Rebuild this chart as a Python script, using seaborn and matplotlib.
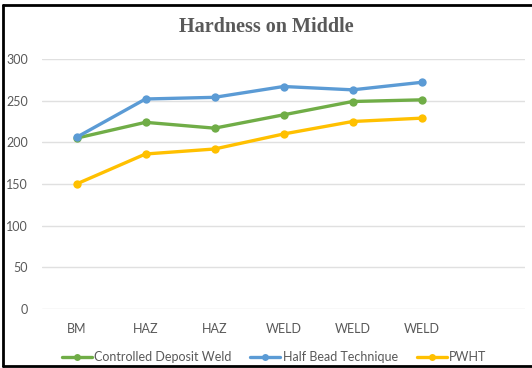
import pandas as pd
import seaborn as sns
import matplotlib.pyplot as plt
from matplotlib.lines import Line2D

# data
categories = ["BM", "HAZ", "HAZ", "WELD", "WELD", "WELD"]
controlled = [205, 224, 217, 233, 249, 251]
half_bead = [206, 252, 254, 267, 263, 272]
pwht = [150, 186, 192, 210, 225, 229]

series = {
    "Controlled Deposit Weld": controlled,
    "Half Bead Technique": half_bead,
    "PWHT": pwht,
}
colors = ["#70AD47", "#5B9BD5", "#FFC000"]

rows = []
for name, vals in series.items():
    for i, v in enumerate(vals):
        rows.append({"pos": i, "value": v, "series": name})
df = pd.DataFrame(rows)

sns.set_style("white")
plt.rcParams["font.family"] = ["Lato", "DejaVu Sans"]

fig = plt.figure(figsize=(5.32, 3.68), dpi=100)
ax = fig.add_axes([42 / 532, 59 / 368, 483 / 532, 250 / 368])

sns.lineplot(data=df, x="pos", y="value", hue="series", palette=colors,
             marker="o", markersize=6, markeredgewidth=0, linewidth=2.4,
             sort=False, ax=ax, legend=False)

ax.set_xlim(-0.5, 6.5)
ax.set_ylim(0, 300)
ax.set_yticks(range(0, 301, 50))
ax.set_xticks(range(len(categories)))
ax.set_xticklabels(categories)
ax.set_xlabel("")
ax.set_ylabel("")
ax.grid(axis="y", color="#E0E0E0", linewidth=1)
ax.set_axisbelow(True)
for s in ax.spines.values():
    s.set_visible(False)
ax.tick_params(axis="both", length=0, colors="#595959", labelsize=9)
ax.tick_params(axis="y", pad=10)
ax.tick_params(axis="x", pad=10)

fig.text(0.5, 1 - 27 / 368, "Hardness on Middle", ha="center", va="center",
         family="Liberation Serif", fontweight="bold", fontsize=14.5, color="#595959")

handles = [Line2D([], [], color=c, linewidth=2.4, marker="o", markersize=5,
                  markeredgewidth=0) for c in colors]
fig.legend(handles, list(series.keys()), loc="center", ncol=3, frameon=False,
           bbox_to_anchor=(0.515, 11 / 368), fontsize=9, handlelength=2.4,
           handletextpad=0.2, columnspacing=1.5, labelcolor="#595959")

# frame around the chart (left, top, bottom)
for xs, ys in [([3, 3], [5, 366]), ([3, 532], [5, 5]), ([3, 532], [366, 366])]:
    fig.add_artist(Line2D([x / 532 for x in xs], [1 - y / 368 for y in ys],
                          color="black", linewidth=2, transform=fig.transFigure))

fig.savefig("out.png", dpi=100)
